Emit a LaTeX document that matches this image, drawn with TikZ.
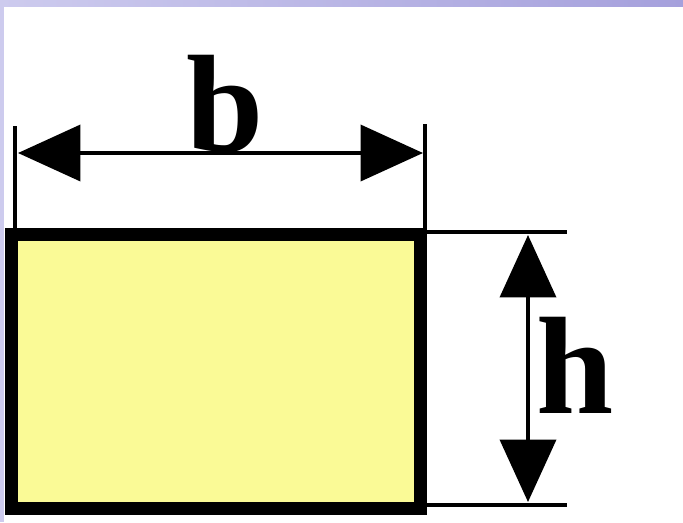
\documentclass[tikz,border=0pt]{standalone}
\usepackage{fontspec}
\setmainfont{Liberation Serif}
\usetikzlibrary{arrows.meta}
\definecolor{relleno}{RGB}{250,250,150}
\definecolor{lavanda}{RGB}{205,203,238}
\definecolor{violeta}{RGB}{165,160,220}

\begin{document}
\begin{tikzpicture}[x=0.02cm, y=-0.02cm,
  cota/.style={line width=0.08cm, {Triangle[length=1.25cm, width=1.12cm]}-{Triangle[length=1.25cm, width=1.12cm]}},
  guia/.style={line width=0.07cm},
  etiqueta/.style={font=\fontsize{79}{80}\selectfont\bfseries, inner sep=0pt}]
% Fondo y marco
\useasboundingbox (0,0) rectangle (683,522);
\shade[left color=lavanda, right color=violeta] (0,0) rectangle (683,7);
\fill[lavanda] (0,7) rectangle (4,522);
\fill[white] (4,7) rectangle (683,522);

% Seccion rectangular
\node (sect) [draw, fill=relleno, line width=0.26cm, minimum width=8.18cm, minimum height=5.48cm, inner sep=0pt] at (216,371.5) {};

% Lineas de referencia
\coordinate (bL) at (15,126);
\coordinate (bR) at (425,124);
\coordinate (hT) at (567,232);
\coordinate (hB) at (567,505);
\draw[guia] (bL) -- (bL |- sect.north);
\draw[guia] (bR) -- (bR |- sect.north);
\draw[guia] (sect.east |- hT) -- (hT);
\draw[guia] (sect.east |- hB) -- (hB);

% Cotas
\coordinate (b1) at (18,153);
\coordinate (b2) at (423,153);
\coordinate (h1) at (528,235);
\coordinate (h2) at (528,502);
\draw[cota] (b1) -- (b2);
\draw[cota] (h1) -- (h2);

% Etiquetas
\node[etiqueta, anchor=base] (lb) at (225,151) {b};
\node[etiqueta, anchor=base] (lh) at (575,413) {h};
\end{tikzpicture}
\end{document}
